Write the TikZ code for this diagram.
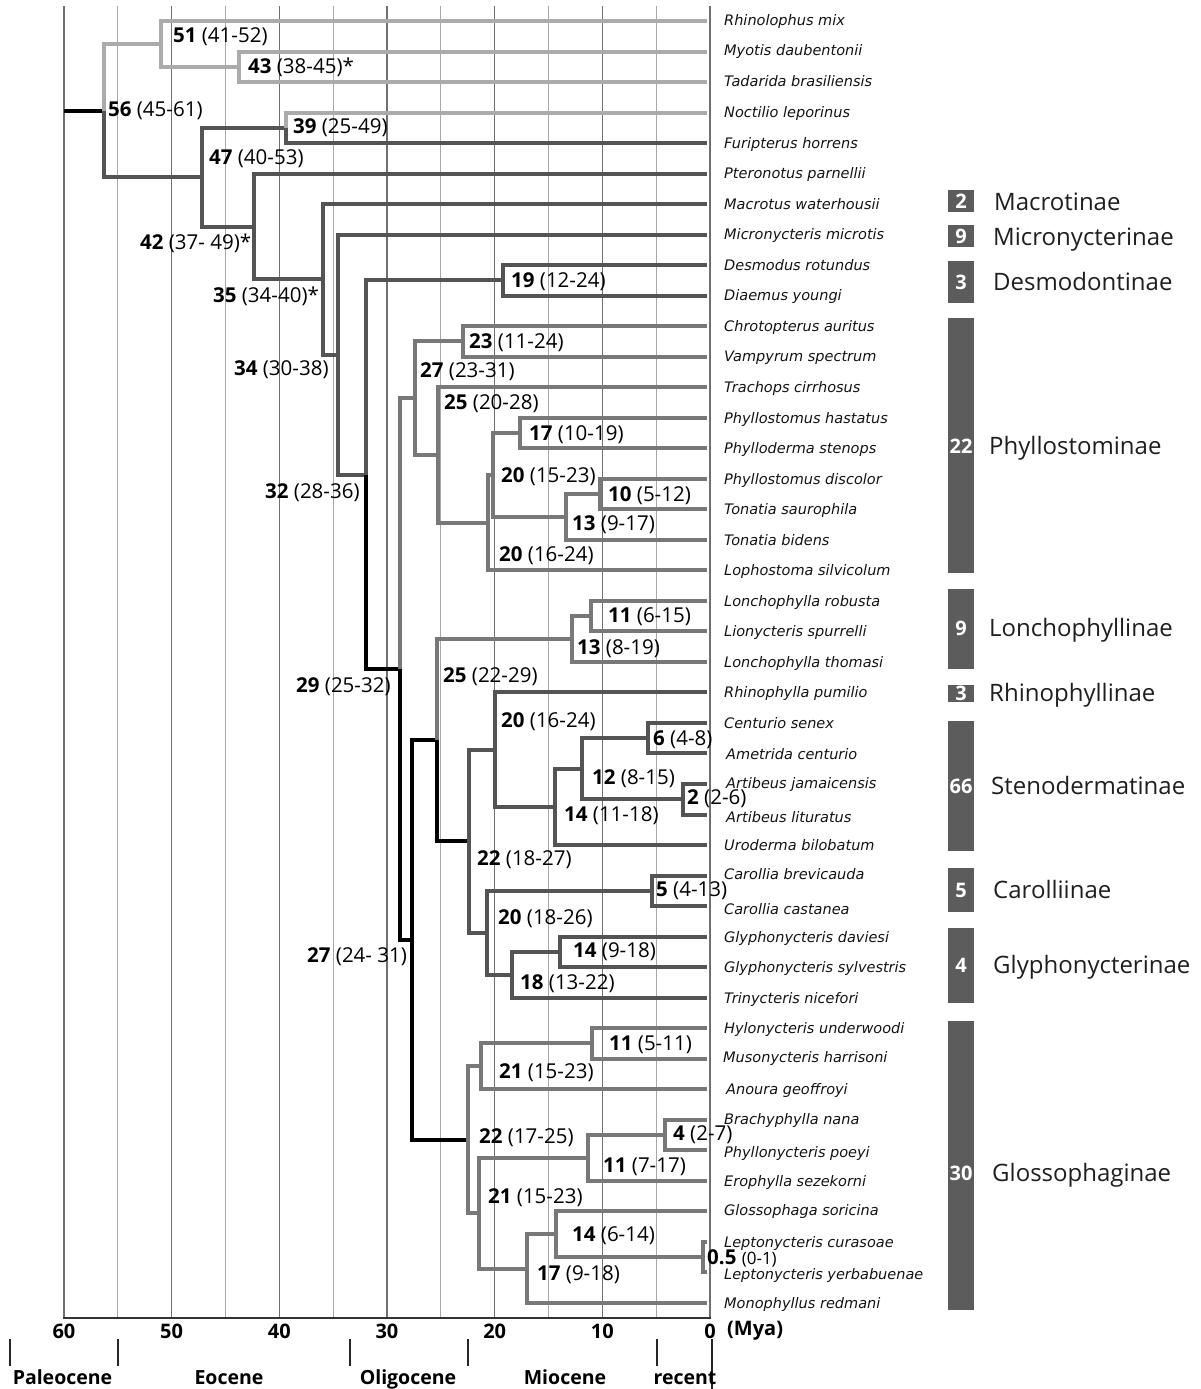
\documentclass[tikz,border=0pt]{standalone}
\usepackage{fontspec}
\setmainfont{Open Sans}
\newfontfamily\taxfont{DejaVu Sans}
\definecolor{cL}{HTML}{ABABAB}
\definecolor{cD}{HTML}{545454}
\definecolor{cM}{HTML}{787878}
\definecolor{cK}{HTML}{000000}
\definecolor{boxgray}{HTML}{5C5C5C}
\definecolor{gridmaj}{HTML}{707070}
\definecolor{gridmin}{HTML}{A8A8A8}
\begin{document}
\begin{tikzpicture}[x=1pt,y=-1pt,
  br/.style={line width=4pt, line cap=butt, line join=miter},
  lab/.style={anchor=west, inner sep=0pt, font=\fontsize{20.5}{24}\selectfont},
  tax/.style={anchor=base west, inner sep=0pt, text=black!92, font=\taxfont\itshape\fontsize{14.5}{17}\selectfont},
  clade/.style={anchor=base west, inner sep=0pt, text=black!88, font=\fontsize{24}{28}\selectfont},
  boxnum/.style={inner sep=0pt, text=white, font=\bfseries\fontsize{20}{22}\selectfont},
  gmaj/.style={draw=gridmaj, line width=1.1pt},
  gmin/.style={draw=gridmin, line width=0.9pt},
  axlab/.style={inner sep=0pt, font=\bfseries\fontsize{20}{22}\selectfont},
  epoch/.style={anchor=base, inner sep=0pt, font=\bfseries\fontsize{19.5}{22}\selectfont},
  etick/.style={draw=black!85, line width=1.2pt}
]
\fill[white] (0,0) rectangle (1200,1389);
\useasboundingbox (0,0) rectangle (1200,1389);

% grid
\foreach \a in {60,50,...,0} { \draw[gmaj] ({710-\a*10.767},6) -- ({710-\a*10.767},1318); }
\foreach \a in {55,45,...,5} { \draw[gmin] ({710-\a*10.767},6) -- ({710-\a*10.767},1318); }
\draw[draw=black!80, line width=1.5pt] (63.3,1318) -- (710.7,1318);
\foreach \a in {60,50,...,0} { \node[axlab] (ax\a) at ({710-\a*10.767},1331) {\a}; }
\node[axlab, anchor=west] (mya) at (727,1331) {(Mya)};

% epochs
\foreach \x/\t in {10/e0,118/e1,350/e2,468/e3,657/e4} { \coordinate (\t a) at (\x,1339); \coordinate (\t b) at (\x,1366); \draw[etick] (\t a) -- (\t b); }
\coordinate (e5a) at (712,1339); \coordinate (e5b) at (712,1389); \draw[etick] (e5a) -- (e5b);
\node[epoch] (ep1) at (62.5,1384) {Paleocene};
\node[epoch] (ep2) at (229,1384) {Eocene};
\node[epoch] (ep3) at (408,1384) {Oligocene};
\node[epoch] (ep4) at (565,1384) {Miocene};
\node[epoch] (ep5) at (685,1384) {recent};

% tips
\foreach \i in {1,...,43} { \coordinate (t\i) at (707,{21+30.52*(\i-1)}); }

% internal nodes
\coordinate (root) at (64,110.55);
\coordinate (n56) at (104,110.55);
\coordinate (n51) at (161,43.9);
\coordinate (n43) at (239,66.8);
\coordinate (n47) at (202,177.2);
\coordinate (n39) at (286,127.9);
\coordinate (n42) at (254,226.5);
\coordinate (n35) at (323,279.4);
\coordinate (n34) at (338,354.7);
\coordinate (n32) at (366,474.75);
\coordinate (n19) at (503,280.45);
\coordinate (n29) at (400,669.05);
\coordinate (n27a) at (415,398.2);
\coordinate (n23) at (463,341.45);
\coordinate (n25a) at (438,455.0);
\coordinate (n20b) at (488,522.7);
\coordinate (n20a) at (493,475.0);
\coordinate (n17) at (520,433.05);
\coordinate (n13a) at (566,516.9);
\coordinate (n10) at (600,494.05);
\coordinate (n27b) at (412,939.9);
\coordinate (n25b) at (437,740.1);
\coordinate (n13b) at (572,639.0);
\coordinate (n11a) at (591,616.15);
\coordinate (n22a) at (469,841.2);
\coordinate (n20c) at (495,749.65);
\coordinate (n14a) at (555,806.9);
\coordinate (n12) at (582,768.75);
\coordinate (n6) at (648,738.25);
\coordinate (n2) at (683,799.25);
\coordinate (n20d) at (487,932.8);
\coordinate (n5) at (652,890.85);
\coordinate (n18) at (512,974.7);
\coordinate (n14b) at (560,951.85);
\coordinate (n22b) at (468,1139.75);
\coordinate (n21a) at (481,1066.3);
\coordinate (n11b) at (592,1043.45);
\coordinate (n21b) at (479,1213.2);
\coordinate (n11c) at (588,1157.9);
\coordinate (n4) at (665,1134.95);
\coordinate (n17b) at (527,1268.5);
\coordinate (n14c) at (556,1234.2);
\coordinate (n05) at (703,1257.05);

% branches
\draw[br, draw=cK] (root) -- (n56);
\foreach \p/\c/\s in {
 n56/n51/cL, n51/t1/cL, n51/n43/cL, n43/t2/cL, n43/t3/cL,
 n56/n47/cD, n47/n39/cD, n39/t4/cL, n39/t5/cD, n47/n42/cD, n42/t6/cD, n42/n35/cD,
 n35/t7/cD, n35/n34/cD, n34/t8/cD, n34/n32/cD,
 n32/n19/cD, n19/t9/cD, n19/t10/cD, n32/n29/cK,
 n29/n27a/cM, n27a/n23/cM, n23/t11/cM, n23/t12/cM, n27a/n25a/cM, n25a/t13/cM,
 n25a/n20b/cM, n20b/n20a/cM, n20b/t19/cM, n20a/n17/cM, n17/t14/cM, n17/t15/cM,
 n20a/n13a/cM, n13a/n10/cM, n10/t16/cM, n10/t17/cM, n13a/t18/cM,
 n29/n27b/cK, n27b/n25b/cK, n25b/n13b/cM, n13b/n11a/cM, n11a/t20/cM, n11a/t21/cM, n13b/t22/cM,
 n25b/n22a/cK, n22a/n20c/cD, n20c/t23/cD, n20c/n14a/cD, n14a/n12/cD, n12/n6/cD,
 n6/t24/cD, n6/t25/cD, n12/n2/cD, n2/t26/cD, n2/t27/cD, n14a/t28/cD,
 n22a/n20d/cD, n20d/n5/cD, n5/t29/cD, n5/t30/cD, n20d/n18/cD, n18/n14b/cD,
 n14b/t31/cD, n14b/t32/cD, n18/t33/cD,
 n27b/n22b/cK, n22b/n21a/cM, n21a/n11b/cM, n11b/t34/cM, n11b/t35/cM, n21a/t36/cM,
 n22b/n21b/cM, n21b/n11c/cM, n11c/n4/cM, n4/t37/cM, n4/t38/cM, n11c/t39/cM,
 n21b/n17b/cM, n17b/n14c/cM, n14c/t40/cM, n14c/n05/cM, n05/t41/cM, n05/t42/cM, n17b/t43/cM}
 { \draw[br, draw=\s] (\p) |- (\c); }

% node labels
\node[lab] (l51) at (173,37) {\textbf{51} (41-52)};
\node[lab] (l43) at (248,67) {\textbf{43} (38-45)*};
\node[lab] (l56) at (108,111) {\textbf{56} (45-61)};
\node[lab] (l39) at (293,128) {\textbf{39} (25-49)};
\node[lab] (l47) at (209,159) {\textbf{47} (40-53)};
\node[lab] (l42) at (140,243) {\textbf{42} (37- 49)*};
\node[lab] (l35) at (213,296) {\textbf{35} (34-40)*};
\node[lab] (l19) at (511,282) {\textbf{19} (12-24)};
\node[lab] (l34) at (234,370) {\textbf{34} (30-38)};
\node[lab] (l23) at (469,343) {\textbf{23} (11-24)};
\node[lab] (l27a) at (420,372) {\textbf{27} (23-31)};
\node[lab] (l25a) at (444,404) {\textbf{25} (20-28)};
\node[lab] (l17) at (529,435) {\textbf{17} (10-19)};
\node[lab] (l20a) at (501,477) {\textbf{20} (15-23)};
\node[lab] (l10) at (608,496) {\textbf{10} (5-12)};
\node[lab] (l13a) at (572,525) {\textbf{13} (9-17)};
\node[lab] (l20b) at (499,556) {\textbf{20} (16-24)};
\node[lab] (l32) at (265,493) {\textbf{32} (28-36)};
\node[lab] (l11a) at (608,617) {\textbf{11} (6-15)};
\node[lab] (l13b) at (577,649) {\textbf{13} (8-19)};
\node[lab] (l25b) at (443,677) {\textbf{25} (22-29)};
\node[lab] (l29) at (296,687) {\textbf{29} (25-32)};
\node[lab] (l20c) at (501,722) {\textbf{20} (16-24)};
\node[lab] (l6) at (653,740) {\textbf{6} (4-8)};
\node[lab] (l12) at (592,779) {\textbf{12} (8-15)};
\node[lab] (l2) at (687,799) {\textbf{2} (2-6)};
\node[lab] (l14a) at (564,816) {\textbf{14} (11-18)};
\node[lab] (l22a) at (477,860) {\textbf{22} (18-27)};
\node[lab] (l5) at (656,891) {\textbf{5} (4-13)};
\node[lab] (l20d) at (498,919) {\textbf{20} (18-26)};
\node[lab] (l14b) at (573,952) {\textbf{14} (9-18)};
\node[lab] (l27b) at (307,957) {\textbf{27} (24- 31)};
\node[lab] (l18) at (520,984) {\textbf{18} (13-22)};
\node[lab] (l11b) at (609,1045) {\textbf{11} (5-11)};
\node[lab] (l21a) at (499,1073) {\textbf{21} (15-23)};
\node[lab] (l22b) at (479,1138) {\textbf{22} (17-25)};
\node[lab] (l4) at (673,1135) {\textbf{4} (2-7)};
\node[lab] (l11c) at (603,1167) {\textbf{11} (7-17)};
\node[lab] (l21b) at (488,1198) {\textbf{21} (15-23)};
\node[lab] (l14c) at (572,1236) {\textbf{14} (6-14)};
\node[lab] (l05) at (707,1258) {\textbf{0.5} {\fontsize{17}{20}\selectfont(0-1)}};
\node[lab] (l17b) at (537,1275) {\textbf{17} (9-18)};

% taxa (baseline = centre + 5)
\foreach \x/\y/\n [count=\k] in {
 724/21/Rhinolophus mix, 724/51/Myotis daubentonii, 724/81/Tadarida brasiliensis,
 724/112/Noctilio leporinus, 724/143/Furipterus horrens, 724/173/Pteronotus parnellii,
 724/204/Macrotus waterhousii, 724/234/Micronycteris microtis, 724/265/Desmodus rotundus,
 724/295/Diaemus youngi, 724/326/Chrotopterus auritus, 724/356/Vampyrum spectrum,
 724/387/Trachops cirrhosus, 724/418/Phyllostomus hastatus, 724/448/Phylloderma stenops,
 724/479/Phyllostomus discolor, 724/509/Tonatia saurophila, 724/540/Tonatia bidens,
 724/570/Lophostoma silvicolum, 724/601/Lonchophylla robusta, 724/631/Lionycteris spurrelli,
 724/662/Lonchophylla thomasi, 724/692/Rhinophylla pumilio, 724/723/Centurio senex,
 726/754/Ametrida centurio, 726/783/Artibeus jamaicensis, 726/817/Artibeus lituratus,
 724/845/Uroderma bilobatum, 724/874/Carollia brevicauda, 724/909/Carollia castanea,
 724/937/Glyphonycteris daviesi, 724/967/Glyphonycteris sylvestris, 724/998/Trinycteris nicefori,
 724/1028/Hylonycteris underwoodi, 723/1057/Musonycteris harrisoni, 726/1089/Anoura geoffroyi,
 724/1119/Brachyphylla nana, 724/1152/Phyllonycteris poeyi, 724/1181/Erophylla sezekorni,
 724/1210/Glossophaga soricina, 724/1242/Leptonycteris curasoae, 724/1274/Leptonycteris yerbabuenae,
 724/1303/Monophyllus redmani}
 { \node[tax] (tx\k) at (\x,{\y+5}) {\n}; }

% clade boxes
\foreach \ya/\yb/\yn/\num/\nm/\yc/\xc [count=\k] in {
 190/212/201/2/Macrotinae/202/994,
 225/247/236/9/Micronycterinae/237/993,
 261/303/282/3/Desmodontinae/282/993,
 318/573/446/22/Phyllostominae/446/989,
 589/669/628/9/Lonchophyllinae/628/989,
 685/702/693.5/3/Rhinophyllinae/693/989,
 721/851/786/66/Stenodermatinae/786/991,
 868/912/890/5/Carolliinae/890/993,
 928/1003/965/4/Glyphonycterinae/965/993,
 1021/1310/1173/30/Glossophaginae/1173/992}
 { \fill[boxgray] (948,\ya) rectangle (974,\yb);
   \node[boxnum] (bn\k) at (961,\yn) {\num};
   \node[clade] (cn\k) at (\xc,{\yc+8.5}) {\nm}; }
\end{tikzpicture}
\end{document}
